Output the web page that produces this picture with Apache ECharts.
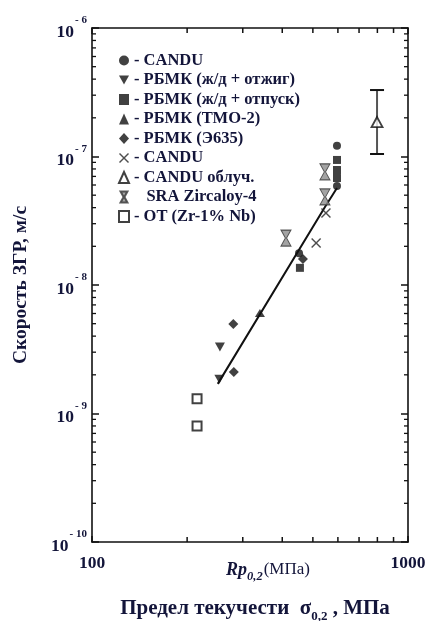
<!DOCTYPE html>
<html><head><meta charset="utf-8">
<script src="https://cdn.jsdelivr.net/npm/echarts@6/dist/echarts.min.js"></script>
<style>html,body{margin:0;padding:0;background:#fff}#c{width:428px;height:621px}</style>
</head><body><div id="c"></div>
<script>
// ---- data ----
const X_MIN = 100, X_MAX = 1000, Y_MIN = 1e-10, Y_MAX = 1e-6;
const xMinorTicks = [200, 300, 400, 500, 600, 700, 800, 900];
const yMinorTicks = [];
[-10, -9, -8, -7].forEach(function (e) { [2,3,4,5,6,7,8,9].forEach(function (m) { yMinorTicks.push(m * Math.pow(10, e)); }); });

const canduFilled   = [[596, 1.21e-7], [596, 5.89e-8], [452, 1.77e-8]];
const rbmkAnnealed  = [[254, 3.29e-9], [253, 1.85e-9]];
const rbmkTempered  = [[596, 9.4e-8], [596, 7.85e-8], [596, 6.8e-8], [455, 1.36e-8]];
const rbmkTMO2      = [[340, 6.05e-9]];
const rbmkE635      = [[280, 4.97e-9], [281, 2.10e-9], [465, 1.59e-8]];
const canduCross    = [[550, 3.63e-8], [512, 2.12e-8]];
const canduIrr      = [[798, 1.855e-7]];
const canduIrrRange = [[798, 1.046e-7, 3.29e-7]];
const sraZry4       = [[411, 2.32e-8], [546, 7.6e-8], [546, 4.85e-8]];
const otZrNb        = [[215, 1.30e-9], [215, 8.0e-10]];
const fitLine       = [[250, 1.70e-9], [546, 4.05e-8], [596, 5.69e-8]];

const names = ['CANDU', 'РБМК (ж/д + отжиг)', 'РБМК (ж/д + отпуск)', 'РБМК (ТМО-2)', 'РБМК (Э635)', 'CANDU ', 'CANDU облуч.', 'SRA Zircaloy-4', 'ОТ (Zr-1% Nb)'];

// ---- style ----
const INK = '#13153a';
const SERIF = '"Liberation Serif", "DejaVu Serif", serif';
const DOWN_TRI = 'path://M0,0 L10,0 L5,9 Z';
const CROSS = 'path://M0,1 L1,0 L5,4 L9,0 L10,1 L6,5 L10,9 L9,10 L5,6 L1,10 L0,9 L4,5 Z';
const HOURGLASS = 'path://M0,0 L10,0 L5.6,8 L10,16 L0,16 L4.4,8 Z';

function minorX(params, api) {
  const v = api.value(0);
  const b = api.coord([v, Y_MIN]), t = api.coord([v, Y_MAX]);
  const st = { stroke: '#111', lineWidth: 1.5 };
  return { type: 'group', children: [
    { type: 'line', shape: { x1: b[0], y1: b[1], x2: b[0], y2: b[1] - 5 }, style: st },
    { type: 'line', shape: { x1: t[0], y1: t[1], x2: t[0], y2: t[1] + 5 }, style: st }
  ]};
}
function minorY(params, api) {
  const v = api.value(1);
  const l = api.coord([X_MIN, v]), r = api.coord([X_MAX, v]);
  const st = { stroke: '#111', lineWidth: 1.3 };
  return { type: 'group', children: [
    { type: 'line', shape: { x1: l[0], y1: l[1], x2: l[0] + 4, y2: l[1] }, style: st },
    { type: 'line', shape: { x1: r[0], y1: r[1], x2: r[0] - 4, y2: r[1] }, style: st }
  ]};
}
function errBar(params, api) {
  const x = api.value(0);
  const lo = api.coord([x, api.value(1)]), hi = api.coord([x, api.value(2)]);
  const w = 7;
  return { type: 'group', children: [
    { type: 'line', shape: { x1: lo[0], y1: lo[1], x2: hi[0], y2: hi[1] }, style: { stroke: '#555', lineWidth: 2 } },
    { type: 'line', shape: { x1: lo[0] - w, y1: lo[1], x2: lo[0] + w, y2: lo[1] }, style: { stroke: '#111', lineWidth: 2 } },
    { type: 'line', shape: { x1: hi[0] - w, y1: hi[1], x2: hi[0] + w, y2: hi[1] }, style: { stroke: '#111', lineWidth: 2 } }
  ]};
}

const axisLine = { show: true, lineStyle: { color: '#111', width: 1.6 } };
const chart = echarts.init(document.getElementById('c'), null, { renderer: 'canvas' });
chart.setOption({
  animation: false,
  backgroundColor: '#fff',
  grid: { left: 92, right: 20, top: 28, bottom: 79, containLabel: false, outerBoundsMode: 'none' },
  xAxis: [
    { type: 'log', logBase: 10, min: X_MIN, max: X_MAX, position: 'bottom',
      axisLine: axisLine, splitLine: { show: false },
      axisTick: { inside: true, length: 6, lineStyle: { color: '#111', width: 1.5 } },
      axisLabel: { margin: 12, color: INK, fontFamily: SERIF, fontWeight: 'bold', fontSize: 17.5,
        formatter: function (v) { return String(Math.round(v)); } } },
    { type: 'log', logBase: 10, min: X_MIN, max: X_MAX, position: 'top',
      axisLine: axisLine, splitLine: { show: false }, axisLabel: { show: false },
      axisTick: { inside: true, length: 6, lineStyle: { color: '#111', width: 1.5 } } }
  ],
  yAxis: [
    { type: 'log', logBase: 10, min: Y_MIN, max: Y_MAX, position: 'left',
      axisLine: axisLine, splitLine: { show: false },
      axisTick: { inside: true, length: 7, lineStyle: { color: '#111', width: 1.5 } },
      name: 'Скорость ЗГР, м/с', nameLocation: 'middle', nameRotate: 90, nameGap: 61,
      nameTextStyle: { color: INK, fontFamily: SERIF, fontWeight: 'bold', fontSize: 19.5 },
      axisLabel: { margin: 5, color: INK,
        formatter: function (v) { const e = Math.round(Math.log10(v)); return '{b|10}{s|- ' + Math.abs(e) + '}'; },
        rich: {
          b: { fontFamily: SERIF, fontWeight: 'bold', fontSize: 17.5, color: INK, lineHeight: 26, verticalAlign: 'bottom' },
          s: { fontFamily: SERIF, fontWeight: 'bold', fontSize: 11, color: INK, lineHeight: 26, verticalAlign: 'top', padding: [0, 0, 0, 1] }
        } } },
    { type: 'log', logBase: 10, min: Y_MIN, max: Y_MAX, position: 'right',
      axisLine: axisLine, splitLine: { show: false }, axisLabel: { show: false },
      axisTick: { inside: true, length: 7, lineStyle: { color: '#111', width: 1.5 } } }
  ],
  legend: {
    data: names, orient: 'vertical', left: 113, top: 47, itemGap: 2.5,
    itemWidth: 10, itemHeight: 11, selectedMode: false,
    textStyle: { color: INK, fontFamily: SERIF, fontWeight: 'bold', fontSize: 16.5, lineHeight: 16 },
    formatter: function (n) { return (n === 'SRA Zircaloy-4' ? '   ' : '- ') + n.trim(); }
  },
  graphic: [
    { type: 'text', silent: true, style: {
        x: 268, y: 570, align: 'center', verticalAlign: 'middle',
        text: '{i|Rp}{sub|0,2}{n|(МПа)}',
        rich: {
          i: { fontFamily: SERIF, fontStyle: 'italic', fontWeight: 'bold', fontSize: 18, fill: INK, lineHeight: 26, verticalAlign: 'middle' },
          sub: { fontFamily: SERIF, fontStyle: 'italic', fontWeight: 'bold', fontSize: 12.5, fill: INK, lineHeight: 26, verticalAlign: 'bottom', padding: [0, 1, 0, 0] },
          n: { fontFamily: SERIF, fontSize: 17, fill: INK, lineHeight: 26, verticalAlign: 'middle' }
        } } },
    { type: 'text', silent: true, style: {
        x: 255, y: 609, align: 'center', verticalAlign: 'middle',
        text: '{a|Предел текучести  σ}{sub|0,2}{a| , МПа}',
        rich: {
          a: { fontFamily: SERIF, fontWeight: 'bold', fontSize: 21, fill: INK, lineHeight: 28, verticalAlign: 'middle' },
          sub: { fontFamily: SERIF, fontWeight: 'bold', fontSize: 13, fill: INK, lineHeight: 28, verticalAlign: 'bottom' }
        } } }
  ],
  series: [
    { type: 'custom', name: 'minorX', renderItem: minorX, data: xMinorTicks.map(function (v) { return [v, Y_MIN]; }),
      encode: { x: 0, y: 1 }, clip: false, silent: true, z: 1 },
    { type: 'custom', name: 'minorY', renderItem: minorY, data: yMinorTicks.map(function (v) { return [X_MIN, v]; }),
      encode: { x: 0, y: 1 }, clip: false, silent: true, z: 1 },
    { type: 'custom', name: 'err', renderItem: errBar, data: canduIrrRange, encode: { x: 0, y: [1, 2] }, silent: true, z: 2 },
    { type: 'line', name: 'fit', data: fitLine, symbol: 'none', lineStyle: { color: '#111', width: 2 }, z: 3, silent: true },
    { type: 'scatter', name: names[0], data: canduFilled, symbol: 'circle', symbolSize: 8, itemStyle: { color: '#111' }, z: 5 },
    { type: 'scatter', name: names[1], data: rbmkAnnealed, symbol: DOWN_TRI, symbolSize: [10, 9], itemStyle: { color: '#111' }, z: 5 },
    { type: 'scatter', name: names[2], data: rbmkTempered, symbol: 'rect', symbolSize: 8, itemStyle: { color: '#111' }, z: 5 },
    { type: 'scatter', name: names[3], data: rbmkTMO2, symbol: 'triangle', symbolSize: [10, 8], itemStyle: { color: '#111' }, z: 5 },
    { type: 'scatter', name: names[4], data: rbmkE635, symbol: 'diamond', symbolSize: [10, 10], itemStyle: { color: '#111' }, z: 5 },
    { type: 'scatter', name: names[5], data: canduCross, symbol: CROSS, symbolSize: 10, itemStyle: { color: '#222' }, z: 5 },
    { type: 'scatter', name: names[6], data: canduIrr, symbol: 'triangle', symbolSize: [11, 10], itemStyle: { color: '#fff', borderColor: '#111', borderWidth: 1.8 }, z: 6 },
    { type: 'scatter', name: names[7], data: sraZry4, symbol: HOURGLASS, symbolSize: [10, 16], itemStyle: { color: '#8c8c8c', borderColor: '#333', borderWidth: 1 }, z: 4 },
    { type: 'scatter', name: names[8], data: otZrNb, symbol: 'rect', symbolSize: 9, itemStyle: { color: '#fff', borderColor: '#111', borderWidth: 2 }, z: 5 }
  ]
});
</script></body></html>
